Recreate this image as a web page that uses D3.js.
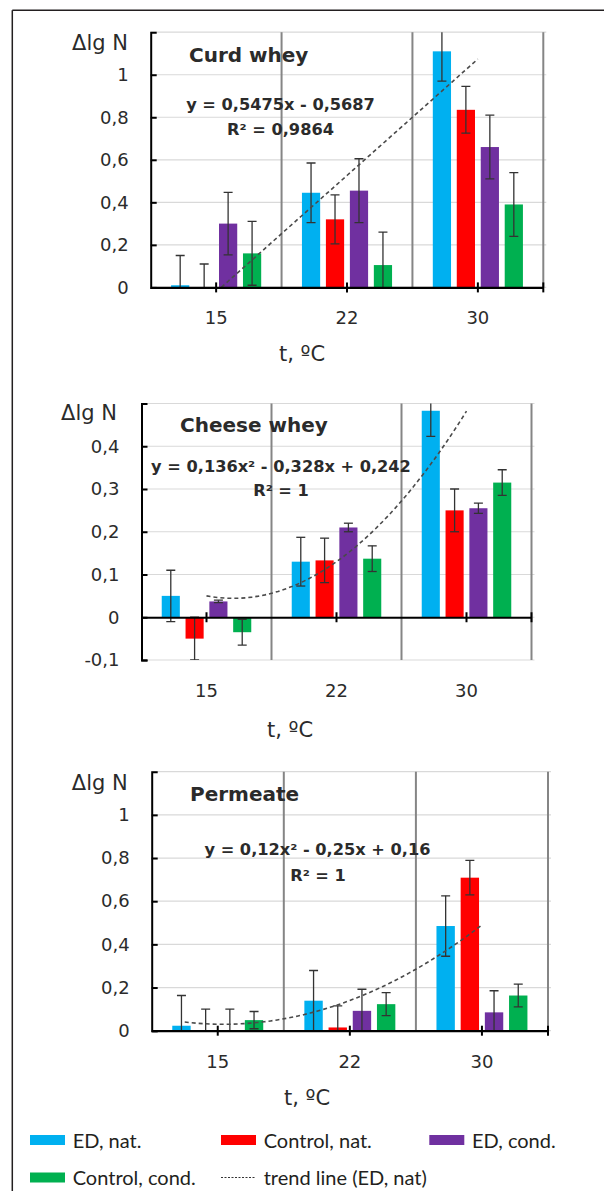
<!DOCTYPE html>
<html>
<head>
<meta charset="utf-8">
<script src="https://cdn.jsdelivr.net/npm/d3@7"></script>
<style>
  body { margin: 0; background: #fff; }
  svg text { font-family: "DejaVu Sans", sans-serif; fill: #2b2b2b; }
  .legend text { font-family: Lato, sans-serif; fill: #231f20; }
</style>
</head>
<body>
<svg id="chart" width="604" height="1191"></svg>
<script>
// categories and series
var categories = ["15", "22", "30"];
var seriesNames = ["ED, nat.", "Control, nat.", "ED, cond.", "Control, cond."];
var trendName = "trend line (ED, nat)";

// Curd whey (rows = temperature, columns = series)
var curdValues = [[0.01, 0, 0.30, 0.16], [0.445, 0.32, 0.455, 0.105], [1.11, 0.835, 0.66, 0.39]];
var curdErrors = [[0.14, 0.11, 0.147, 0.15], [0.14, 0.115, 0.15, 0.155], [0.14, 0.11, 0.15, 0.15]];
var curdTrend = [0.5475, -0.5687];
var curdTrendSpan = [1, 3];
var curdTicks = [0, 0.2, 0.4, 0.6, 0.8, 1];
var curdDomain = [0, 1.2];
var curdTexts = ["Curd whey", "y = 0,5475x - 0,5687", "R\u00b2 = 0,9864"];

// Cheese whey
var cheeseValues = [[0.05, -0.05, 0.037, -0.035], [0.13, 0.133, 0.21, 0.137], [0.483, 0.25, 0.255, 0.315]];
var cheeseErrors = [[0.06, 0.05, 0.003, 0.03], [0.057, 0.052, 0.01, 0.03], [0.06, 0.05, 0.012, 0.03]];
var cheeseTrend = [0.136, -0.328, 0.242];
var cheeseTrendSpan = [1, 3];
var cheeseTicks = [-0.1, 0, 0.1, 0.2, 0.3, 0.4];
var cheeseDomain = [-0.1, 0.5];
var cheeseTexts = ["Cheese whey", "y = 0,136x\u00b2 - 0,328x + 0,242", "R\u00b2 = 1"];

// Permeate
var permValues = [[0.023, 0, 0, 0.049], [0.139, 0.015, 0.092, 0.123], [0.485, 0.709, 0.085, 0.163]];
var permErrors = [[0.14, 0.1, 0.1, 0.04], [0.14, 0.1, 0.1, 0.053], [0.14, 0.08, 0.1, 0.053]];
var permTrend = [0.12, -0.25, 0.16];
var permTrendSpan = [0.75, 3];
var permTicks = [0, 0.2, 0.4, 0.6, 0.8, 1];
var permDomain = [0, 1.2];
var permTexts = ["Permeate", "y = 0,12x\u00b2 - 0,25x + 0,16", "R\u00b2 = 1"];

var colors = ["#00b0f0", "#ff0000", "#7030a0", "#00b050"];

var svg = d3.select("#chart");

// frame
svg.append("line").attr("x1", 12.3).attr("x2", 12.3).attr("y1", 10.3).attr("y2", 1191)
  .attr("stroke", "#231f20").attr("stroke-width", 1.5);
svg.append("line").attr("x1", 12.3).attr("x2", 604).attr("y1", 10.3).attr("y2", 10.3)
  .attr("stroke", "#231f20").attr("stroke-width", 1.5);

// layout of the three panels
var panels = [
  { id: "p1", values: curdValues, errors: curdErrors, trend: curdTrend, span: curdTrendSpan,
    ticks: curdTicks, domain: curdDomain, texts: curdTexts,
    left: 150.7, right: 543.3, bottom: 287.4, top: 32.2,
    ylab: [128, 50], title: [189, 62], eq: [280.5, 110], r2: [280.5, 135], xlab: [302, 361], xPad: 18.7 },
  { id: "p2", values: cheeseValues, errors: cheeseErrors, trend: cheeseTrend, span: cheeseTrendSpan,
    ticks: cheeseTicks, domain: cheeseDomain, texts: cheeseTexts,
    left: 141.5, right: 531.5, bottom: 660, top: 403.5,
    ylab: [117, 420], title: [180, 431.7], eq: [281, 471.7], r2: [281, 496], xlab: [290, 737], xPad: 62 },
  { id: "p3", values: permValues, errors: permErrors, trend: permTrend, span: permTrendSpan,
    ticks: permTicks, domain: permDomain, texts: permTexts,
    left: 151.7, right: 548, bottom: 1030.7, top: 771.7,
    ylab: [127.7, 790], title: [190, 800.5], eq: [317.5, 855], r2: [318, 881], xlab: [307, 1105], xPad: 19.8 }
];

function fmt(d) { return String(d).replace(".", ","); }

function poly(c, t) {
  var s = 0;
  c.forEach(function(k) { s = s * t + k; });
  return s;
}

panels.forEach(function(p) {
  var g = svg.append("g");

  var x0 = d3.scaleBand().domain(categories).range([p.left, p.right]);
  var x1 = d3.scaleBand().domain(seriesNames).range([0, x0.bandwidth()])
    .paddingInner(0.24).paddingOuter(0.85);
  var y = d3.scaleLinear().domain(p.domain).range([p.bottom, p.top]);

  g.append("clipPath").attr("id", "clip-" + p.id)
    .append("rect")
      .attr("x", p.left).attr("y", p.top)
      .attr("width", p.right - p.left + 6).attr("height", p.bottom - p.top);

  // horizontal gridlines
  var grid = p.ticks.concat([p.domain[1]]);
  g.selectAll(".hgrid").data(grid).enter().append("line")
    .attr("x1", p.left).attr("x2", p.right + 3)
    .attr("y1", function(d) { return y(d); }).attr("y2", function(d) { return y(d); })
    .attr("stroke", "#d9d9d9").attr("stroke-width", 1.2);

  // vertical separators between temperatures
  g.selectAll(".vgrid").data(categories).enter().append("line")
    .attr("x1", function(d) { return x0(d) + x0.bandwidth(); })
    .attr("x2", function(d) { return x0(d) + x0.bandwidth(); })
    .attr("y1", p.top).attr("y2", p.bottom)
    .attr("stroke", "#858585").attr("stroke-width", 2);

  var rows = [];
  categories.forEach(function(c, i) {
    seriesNames.forEach(function(s, j) {
      rows.push({ cat: c, s: s, v: p.values[i][j], e: p.errors[i][j], color: colors[j] });
    });
  });

  // bars
  g.selectAll(".bar").data(rows).enter().append("rect")
    .attr("x", function(d) { return x0(d.cat) + x1(d.s); })
    .attr("y", function(d) { return y(Math.max(d.v, 0)); })
    .attr("width", x1.bandwidth())
    .attr("height", function(d) { return Math.abs(y(d.v) - y(0)); })
    .attr("fill", function(d) { return d.color; });

  // error bars
  var eb = g.append("g").attr("clip-path", "url(#clip-" + p.id + ")")
    .attr("stroke", "#333").attr("stroke-width", 1.3);
  rows.forEach(function(d) {
    var cx = x0(d.cat) + x1(d.s) + x1.bandwidth() / 2;
    eb.append("line").attr("x1", cx).attr("x2", cx)
      .attr("y1", y(d.v - d.e)).attr("y2", y(d.v + d.e));
    [d.v - d.e, d.v + d.e].forEach(function(v) {
      eb.append("line").attr("x1", cx - 4.5).attr("x2", cx + 4.5)
        .attr("y1", y(v)).attr("y2", y(v));
    });
  });

  // trend line from the equation
  var tx = d3.scaleLinear().domain([1, 3])
    .range([x0(categories[0]) + x0.bandwidth() / 2, x0(categories[2]) + x0.bandwidth() / 2]);
  var pts = d3.range(p.span[0], p.span[1] + 0.001, 0.05);
  g.append("path").datum(pts)
    .attr("clip-path", "url(#clip-" + p.id + ")")
    .attr("fill", "none").attr("stroke", "#4a4a4a").attr("stroke-width", 1.6)
    .attr("stroke-dasharray", "4,3")
    .attr("d", d3.line().x(function(t) { return tx(t); }).y(function(t) { return y(poly(p.trend, t)); }));

  // y axis
  var ya = g.append("g").attr("transform", "translate(" + p.left + ",0)")
    .call(d3.axisLeft(y).tickValues(p.ticks).tickSize(-6).tickSizeOuter(-6).tickPadding(22).tickFormat(fmt));
  ya.select(".domain").attr("stroke", "#000").attr("stroke-width", 2);
  ya.selectAll(".tick line").attr("stroke", "#000").attr("stroke-width", 2);
  ya.selectAll(".tick text").attr("font-size", 18).attr("font-family", "DejaVu Sans").attr("fill", "#2b2b2b");

  // x axis at zero
  var xa = g.append("g").attr("transform", "translate(0," + y(0) + ")")
    .call(d3.axisBottom(x0).tickSize(5).tickSizeOuter(0).tickPadding(p.xPad));
  xa.select(".domain").attr("stroke", "#000").attr("stroke-width", 2.2);
  xa.selectAll(".tick line").attr("y1", -5).attr("stroke", "#000").attr("stroke-width", 2);
  xa.selectAll(".tick text").attr("font-size", 18).attr("font-family", "DejaVu Sans").attr("fill", "#2b2b2b");
  xa.append("line").attr("x1", x0.range()[1]).attr("x2", x0.range()[1])
    .attr("y1", -5).attr("y2", 5).attr("stroke", "#000").attr("stroke-width", 2);

  // texts
  g.append("text").attr("x", p.ylab[0]).attr("y", p.ylab[1]).attr("text-anchor", "end")
    .attr("font-size", 21).text("\u0394lg N");
  g.append("text").attr("x", p.title[0]).attr("y", p.title[1])
    .attr("font-size", 20).attr("font-weight", "bold").text(p.texts[0]);
  g.append("text").attr("x", p.eq[0]).attr("y", p.eq[1]).attr("text-anchor", "middle")
    .attr("font-size", 16.2).attr("font-weight", "bold").text(p.texts[1]);
  g.append("text").attr("x", p.r2[0]).attr("y", p.r2[1]).attr("text-anchor", "middle")
    .attr("font-size", 16.2).attr("font-weight", "bold").text(p.texts[2]);
  g.append("text").attr("x", p.xlab[0]).attr("y", p.xlab[1]).attr("text-anchor", "middle")
    .attr("font-size", 21).text("t, \u00baC");
});

// legend
var legendItems = seriesNames.concat([trendName]);
var lg = svg.append("g").attr("class", "legend");
var colX = [30, 221, 429.3], rowY = [1135, 1172.5], textY = [1148.3, 1185];
legendItems.forEach(function(name, i) {
  var cx = colX[i % 3], r = Math.floor(i / 3);
  if (i < colors.length) {
    lg.append("rect").attr("x", cx).attr("y", rowY[r]).attr("width", 35).attr("height", 10)
      .attr("fill", colors[i]);
  } else {
    lg.append("line").attr("x1", cx).attr("x2", cx + 35)
      .attr("y1", rowY[r] + 5).attr("y2", rowY[r] + 5)
      .attr("stroke", "#333").attr("stroke-width", 1.2).attr("stroke-dasharray", "2,1.5");
  }
  lg.append("text").attr("x", cx + 42.7).attr("y", textY[r]).attr("font-size", 20).text(name);
});
</script>
</body>
</html>
